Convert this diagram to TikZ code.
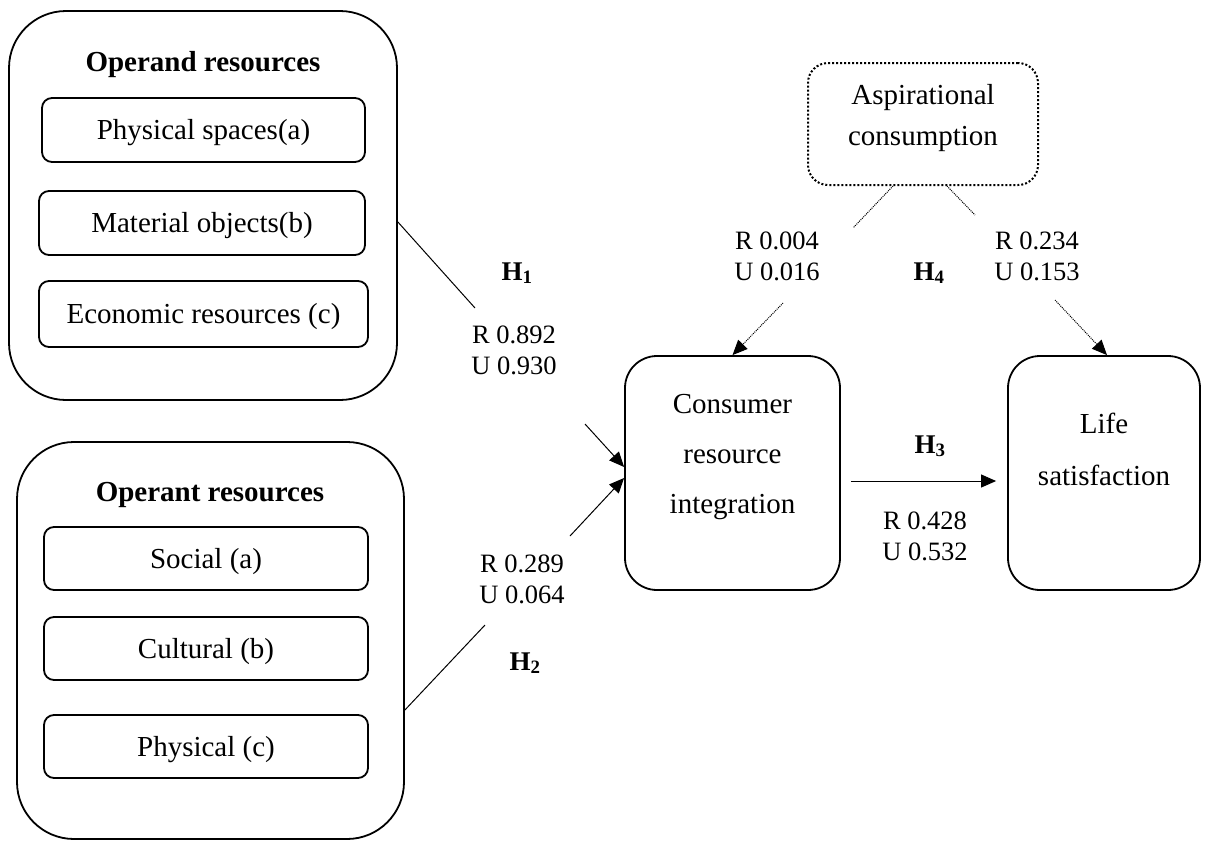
\documentclass[tikz,border=0pt]{standalone}
\usepackage{fontspec}
\setmainfont{Liberation Serif}
\usetikzlibrary{arrows.meta}
\begin{document}
\begin{tikzpicture}[x=1pt,y=-1pt,
  groupbox/.style 2 args={draw, line width=1.8pt, rounded corners=57pt,
    minimum width=#1, minimum height=#2, inner sep=0pt},
  itembox/.style 2 args={draw, line width=1.8pt, rounded corners=10pt,
    minimum width=#1, minimum height=#2, inner sep=0pt,
    font=\fontsize{29}{34}\selectfont, text height=19pt, text depth=0pt},
  grouptitle/.style={anchor=base, inner sep=0pt,
    font=\fontsize{29}{34}\selectfont\bfseries},
  constructbox/.style 2 args={draw, line width=1.8pt, rounded corners=32pt,
    minimum width=#1, minimum height=#2, inner sep=0pt, align=center,
    text depth=0pt},
  moderatorbox/.style 2 args={draw, line width=2pt, dotted, rounded corners=20pt,
    minimum width=#1, minimum height=#2, inner sep=0pt, align=center,
    text height=42pt, text depth=0pt, font=\fontsize{29}{41}\selectfont},
  coef/.style={anchor=base, inner sep=0pt, align=center,
    font=\fontsize{26.5}{30.5}\selectfont},
  hyp/.style={anchor=base, inner sep=0pt,
    font=\fontsize{27}{30}\selectfont\bfseries},
  path/.style={line width=1pt},
  modpath/.style={line width=1pt, dash pattern=on 1pt off 1pt},
  tip/.style={-{Triangle[length=15pt,width=13pt]}}
]
\useasboundingbox[fill=white] (0,0) rectangle (1208,841);

% operand resources
\node[groupbox={388pt}{389pt}] (opd) at (203,205.5) {};
\node[grouptitle] (opdt) at (203,71) {Operand resources};
\node[itembox={323pt}{64pt}] (opda) at (203.5,130) {Physical spaces(a)};
\node[itembox={326pt}{64pt}] (opdb) at (202,223) {Material objects(b)};
\node[itembox={329pt}{66pt}] (opdc) at (203.5,314) {Economic resources (c)};

% operant resources
\node[groupbox={387pt}{397pt}] (opt) at (210.5,640.5) {};
\node[grouptitle] (optt) at (210,501) {Operant resources};
\node[itembox={324pt}{63pt}] (opta) at (206,558.5) {Social (a)};
\node[itembox={324pt}{63pt}] (optb) at (206,648.5) {Cultural (b)};
\node[itembox={324pt}{63pt}] (optc) at (206,746.5) {Physical (c)};

% constructs
\node[constructbox={215pt}{234pt}, text height=80pt,
      font=\fontsize{29}{50}\selectfont] (cri) at (732.5,473)
      {Consumer\\resource\\integration};
\node[constructbox={192pt}{234pt}, text height=24pt,
      font=\fontsize{29}{52}\selectfont] (ls) at (1104,473)
      {Life\\satisfaction};
\node[moderatorbox={230pt}{122pt}] (asp) at (923,124)
      {Aspirational\\consumption};

% break points of the paths around their coefficients
\coordinate (h1a) at (475,308);
\coordinate (h1b) at (585,424);
\coordinate (h2a) at (485,625);
\coordinate (h2b) at (570,536);
\coordinate (h4a) at (853,228);
\coordinate (h4b) at (783,303);
\coordinate (h4c) at (975,215);
\coordinate (h4d) at (1055,300);

% H1
\draw[path] ([yshift=-16.5pt]opd.east) -- (h1a);
\draw[path, tip] (h1b) -- ([yshift=6pt]cri.west);
% H2
\draw[path] ([yshift=-69.5pt]opt.east) -- (h2a);
\draw[path, tip] (h2b) -- ([yshift=-5pt]cri.west);
% H3
\draw[path, tip] ([xshift=10pt,yshift=-8pt]cri.east) -- ([xshift=-11pt,yshift=-8pt]ls.west);
% H4
\draw[modpath] ([xshift=-30pt]asp.south) -- (h4a);
\draw[modpath, tip] (h4b) -- (cri.north);
\draw[modpath] ([xshift=24pt]asp.south) -- (h4c);
\draw[modpath, tip] (h4d) -- ([xshift=3pt]ls.north);

% hypotheses and coefficients (coefficient nodes sit on their last baseline)
\node[hyp] (h1) at (517,280) {H\textsubscript{1}};
\node[coef] (c1) at (514,374) {R 0.892\\U 0.930};
\node[coef] (c2) at (522,603) {R 0.289\\U 0.064};
\node[hyp] (h2) at (525,670) {H\textsubscript{2}};
\node[hyp] (h3) at (930,453) {H\textsubscript{3}};
\node[coef] (c3) at (925,560) {R 0.428\\U 0.532};
\node[coef] (c4a) at (777,280) {R 0.004\\U 0.016};
\node[hyp] (h4) at (929,280) {H\textsubscript{4}};
\node[coef] (c4b) at (1037,280) {R 0.234\\U 0.153};
\end{tikzpicture}
\end{document}
